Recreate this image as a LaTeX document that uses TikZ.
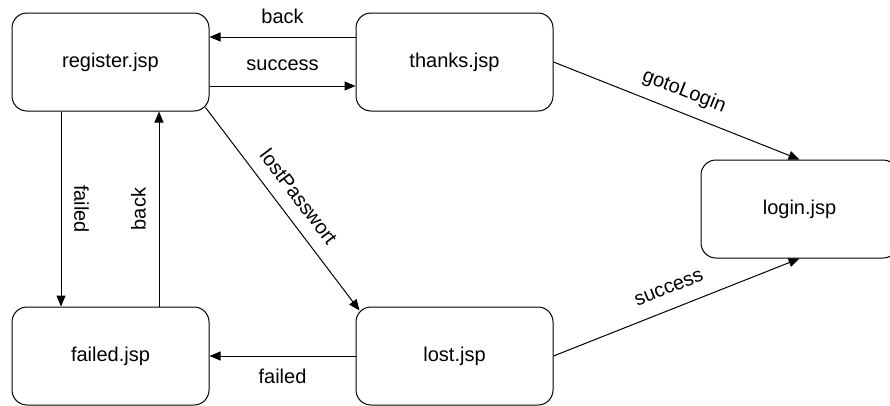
\documentclass[tikz,border=0pt]{standalone}
\usepackage{fontspec}
\setmainfont{Liberation Sans}
\usetikzlibrary{arrows.meta}
\begin{document}
\begin{tikzpicture}[x=1pt,y=-1pt,
  page/.style={draw, rounded corners=15pt, minimum width=197pt, minimum height=98pt, inner sep=0pt, line width=1pt, font=\fontsize{20pt}{24pt}\selectfont},
  arr/.style={-{Triangle[length=11pt,width=9pt]}, line width=1pt},
  lbl/.style={inner sep=0pt, minimum height=40pt, font=\fontsize{20pt}{24pt}\selectfont}]
\useasboundingbox (0,0) rectangle (890,405);
\clip (0,0) rectangle (890,405);
\node[page] (register) at (110.5,62) {register.jsp};
\node[page] (thanks) at (454.5,62) {thanks.jsp};
\node[page] (failed) at (110.5,356) {failed.jsp};
\node[page] (lost) at (454.5,356) {lost.jsp};
\node[page] (login) at (799.5,209) {login.jsp};
\draw[arr] ([yshift=25pt]thanks.west) -- node[lbl, anchor=south]{back} ([yshift=25pt]register.east);
\draw[arr] ([yshift=-24pt]register.east) -- node[lbl, anchor=south]{success} ([yshift=-24pt]thanks.west);
\draw[arr] ([xshift=-49.5pt]register.south) -- node[lbl, rotate=-90, anchor=south]{failed} ([xshift=-49.5pt]failed.north);
\draw[arr] ([xshift=48.5pt]failed.north) -- node[lbl, rotate=90, anchor=south]{back} ([xshift=48.5pt]register.south);
\draw[arr] ([shift={(-4pt,4pt)}]register.south east) -- node[lbl, sloped, anchor=south]{lostPasswort} ([shift={(4pt,-4pt)}]lost.north west);
\draw[arr] (lost.west) -- node[lbl, anchor=north]{failed} (failed.east);
\draw[arr] (lost.east) -- node[lbl, sloped, anchor=south]{success} (login.south);
\draw[arr] (thanks.east) -- node[lbl, sloped, anchor=south]{gotoLogin} (login.north);
\end{tikzpicture}
\end{document}
